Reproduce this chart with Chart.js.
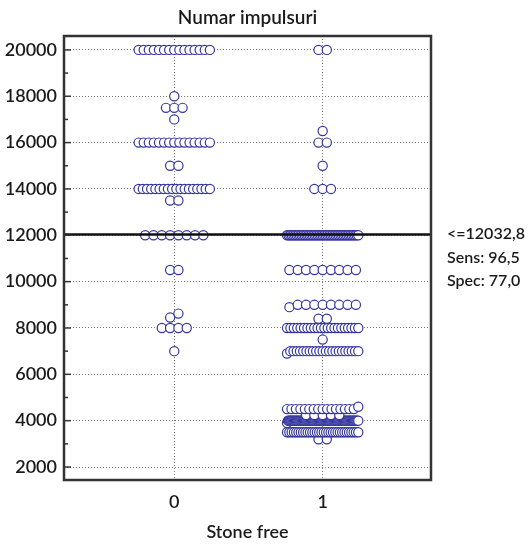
<!DOCTYPE html>
<html>
<head>
<meta charset="utf-8">
<script src="https://cdn.jsdelivr.net/npm/chart.js@4.4.0/dist/chart.umd.min.js"></script>
<style>
  html, body { margin: 0; padding: 0; background: #fff; }
  #wrap { width: 528px; height: 545px; position: relative; }
</style>
</head>
<body>
<div id="wrap"><canvas id="c"></canvas></div>
<script>
(function(){

    "use strict"

    // values: level -> number of dots at that level
    const levels0 = [20000, 18000, 17500, 17000, 16000, 15000, 14000, 13500, 12000, 10500, 8620, 8450, 8000, 7000];
    const counts0 = [15, 1, 3, 1, 15, 2, 18, 2, 8, 2, 1, 1, 4, 1];

    const levels1 = [20000, 16500, 16000, 15000, 14000, 12000, 10500, 9000, 8900, 8400, 8000, 7500, 7000, 6900, 4600, 4500, 4250, 4000, 3900, 3500, 3200];
    const counts1 = [2, 1, 2, 1, 3, 45, 9, 8, 1, 2, 22, 1, 22, 1, 1, 16, 5, 80, 1, 32, 2];

    const categories = ["0", "1"];
    const yTicks = [2000, 4000, 6000, 8000, 10000, 12000, 14000, 16000, 18000, 20000];
    const cutoff = 12032.8;
    const notes = ["<=12032,8", "Sens: 96,5", "Spec: 77,0"];

    const FONT = "Lato, 'Open Sans', sans-serif";
    const TXT = "#1a1a1a";
    const DOT = "#3535a0";

    // spread dots that fall in the same band sideways (dot plot layout)
    function swarm(levels, counts, center) {
        const vals = [];
        levels.forEach(function(v, i) {
            for (let k = 0; k < counts[i]; k++) vals.push(v);
        });
        vals.sort(function(a, b) { return a - b; });
        const bins = {};
        vals.forEach(function(v) {
            const b = Math.round(v / 250);
            (bins[b] = bins[b] || []).push(v);
        });
        const pts = [];
        Object.keys(bins).forEach(function(b) {
            const row = bins[b];
            const n = row.length;
            const step = n > 1 ? Math.min(0.056, 0.48 / (n - 1)) : 0;
            row.forEach(function(v, j) {
                pts.push({ x: center + (j - (n - 1) / 2) * step, y: v });
            });
        });
        return pts;
    }

    // frame, inward tick marks and the texts around the plot
    const decorations = {
        id: "decorations",
        afterDraw: function(chart) {
            const c = chart.ctx;
            const a = chart.chartArea;
            const y = chart.scales.y;
            c.save();
            c.strokeStyle = "#333";
            c.lineWidth = 1.5;
            yTicks.forEach(function(v) {
                let p = y.getPixelForValue(v);
                c.beginPath(); c.moveTo(a.left, p); c.lineTo(a.left + 7, p); c.stroke();
                p = y.getPixelForValue(v + 1000);
                if (v + 1000 < y.max) {
                    c.beginPath(); c.moveTo(a.left, p); c.lineTo(a.left + 4, p); c.stroke();
                }
            });
            c.lineWidth = 2.5;
            c.strokeRect(a.left, a.top, a.right - a.left, a.bottom - a.top);

            c.fillStyle = TXT;
            c.textAlign = "center";
            c.textBaseline = "alphabetic";
            c.font = "600 19px " + FONT;
            c.fillText("Numar impulsuri", (a.left + a.right) / 2, 24);
            c.font = "600 18px " + FONT;
            c.fillText("Stone free", (a.left + a.right) / 2, 538);

            c.textAlign = "left";
            c.textBaseline = "middle";
            c.font = "600 16px " + FONT;
            notes.forEach(function(t, i) {
                c.fillText(t, a.right + 16, 234 + i * 23.5);
            });
            c.restore();
        }
    };

    const dotStyle = {
        pointRadius: 4.6,
        pointBorderWidth: 1.2,
        pointBorderColor: DOT,
        pointBackgroundColor: "#fff",
        showLine: false,
        order: 1
    };

    new Chart(document.getElementById("c"), {
        type: "scatter",
        data: {
            datasets: [
                {
                    type: "line",
                    data: [{ x: -0.743, y: cutoff }, { x: 1.73, y: cutoff }],
                    borderColor: "#111",
                    borderWidth: 2.5,
                    pointRadius: 0,
                    order: 0
                },
                Object.assign({ data: swarm(levels0, counts0, 0) }, dotStyle),
                Object.assign({ data: swarm(levels1, counts1, 1) }, dotStyle)
            ]
        },
        options: {
            responsive: true,
            maintainAspectRatio: false,
            animation: false,
            layout: { padding: { top: 36, right: 97, bottom: 0, left: 0 } },
            plugins: { legend: { display: false }, tooltip: { enabled: false } },
            scales: {
                x: {
                    type: "linear",
                    min: -0.743,
                    max: 1.73,
                    afterBuildTicks: function(s) {
                        s.ticks = categories.map(function(c, i) { return { value: i }; });
                    },
                    afterFit: function(s) { s.height = 65; },
                    ticks: {
                        callback: function(v) { return categories[v]; },
                        font: { family: FONT, size: 18, weight: "600" },
                        color: TXT,
                        padding: 11
                    },
                    grid: { color: "#7a7a7a", drawTicks: false },
                    border: { display: false, dash: [1, 2] }
                },
                y: {
                    min: 1440,
                    max: 20600,
                    afterBuildTicks: function(s) {
                        s.ticks = yTicks.map(function(v) { return { value: v }; });
                    },
                    afterFit: function(s) { s.width = 64; },
                    ticks: {
                        callback: function(v) { return String(v); },
                        font: { family: FONT, size: 18, weight: "600" },
                        color: TXT,
                        padding: 7
                    },
                    grid: { color: "#7a7a7a", drawTicks: false },
                    border: { display: false, dash: [1, 2] }
                }
            }
        },
        plugins: [decorations]
    });

}());
</script>
</body>
</html>
